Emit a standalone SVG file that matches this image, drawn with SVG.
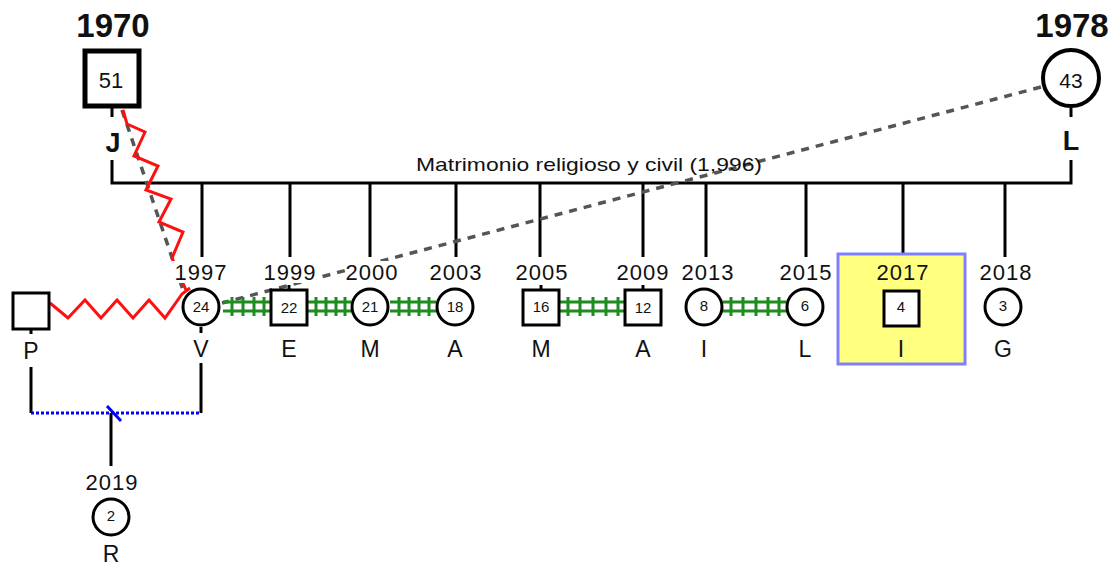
<svg xmlns="http://www.w3.org/2000/svg" width="1114" height="566" viewBox="0 0 1114 566">
<style>
text{font-family:"Liberation Sans",Arial,sans-serif;fill:#111;text-anchor:middle}
.yr{font-size:22px;letter-spacing:1px}
.big{font-size:33px;font-weight:bold}
.nm{font-size:23px}
.ln{stroke:#000;stroke-width:3;fill:none}
.nd{fill:#fff;stroke:#000;stroke-width:3}
.age{font-size:15px}
.grn{stroke:#1e8c1e;stroke-width:3;fill:none}
.gd{stroke:#555;stroke-width:3.5;stroke-dasharray:8 7;fill:none}
.red{stroke:#ff1010;stroke-width:3;fill:none;stroke-linejoin:miter}
.bg{fill:#fff}
</style>
<rect width="1114" height="566" fill="#fff"/>
<g id="connectors">
  <path class="ln" d="M112 108V117M112 160V183H1071V160M1071 108V117"/>
  <path class="ln" d="M202 183V257M290 183V257M370 183V257M456 183V257M540 183V257M643 183V257M706 183V257M806 183V257M903 183V257M1005 183V257"/>
  <path class="ln" d="M31 330V334M31 367V413M201 327V333M201 363V413M111 413V466"/>
  <path d="M31 413H201" stroke="#0000ff" stroke-width="3" stroke-dasharray="3 2" fill="none"/>
  <path d="M107 406L121 421" stroke="#0000ff" stroke-width="3"/>
  <path class="gd" d="M1041 87L222 303"/>
  <path class="gd" d="M122 110L183 290"/>
  <polyline class="red" points="123,110 127,124 145,132 134,156 158,166 146,190 171,199 159,222 183,232 172,258 186,290"/>
  <polyline class="red" points="50,303 68,318 85,300 101,318 117,300 133,318 149,300 165,318 182,294 190,288"/>
  <path class="grn" d="M223 302H270M223 311H270M232 297V316M243 297V316M254 297V316M264 297V316"/>
  <path class="grn" d="M307 302H351M307 311H351M316 297V316M326 297V316M336 297V316M345 297V316"/>
  <path class="grn" d="M390 302H436M390 311H436M399 297V316M409 297V316M419 297V316M429 297V316"/>
  <path class="grn" d="M559 302H624M559 311H624M568 297V316M580 297V316M593 297V316M606 297V316M618 297V316"/>
  <path class="grn" d="M723 302H786M723 311H786M731 297V316M743 297V316M756 297V316M768 297V316M779 297V316"/>
  <path class="ln" d="M289 285V289M541 285V289M643 285V289M903 285V289"/>
</g>
<text x="589" y="171" font-size="19" textLength="346" lengthAdjust="spacingAndGlyphs">Matrimonio religioso y civil (1,996)</text>
<rect id="highlight" x="838" y="254" width="127" height="110" fill="#ffff80" stroke="#8080ff" stroke-width="3"/>
<g id="years">
  <rect class="bg" x="172" y="261" width="57" height="22"/>
  <rect class="bg" x="262" y="261" width="54" height="22"/>
  <rect class="bg" x="346" y="261" width="50" height="22"/>
  <rect class="bg" x="429" y="261" width="52" height="22"/>
  <text class="yr" x="201" y="280">1997</text>
  <text class="yr" x="290" y="280">1999</text>
  <text class="yr" x="372" y="280">2000</text>
  <text class="yr" x="456" y="280">2003</text>
  <text class="yr" x="542" y="280">2005</text>
  <text class="yr" x="643" y="280">2009</text>
  <text class="yr" x="708" y="280">2013</text>
  <text class="yr" x="806" y="280">2015</text>
  <text class="yr" x="903" y="280">2017</text>
  <text class="yr" x="1006" y="280">2018</text>
</g>
<g id="node-J">
  <text class="big" x="113" y="37">1970</text>
  <rect x="85" y="51" width="54" height="55" fill="#fff" stroke="#000" stroke-width="5"/>
  <text x="111" y="88" font-size="22">51</text>
  <text x="113" y="152" font-size="27" font-weight="bold">J</text>
</g>
<g id="node-L">
  <text class="big" x="1072" y="37">1978</text>
  <circle cx="1071" cy="78" r="28" fill="#fff" stroke="#000" stroke-width="4"/>
  <text x="1071" y="88" font-size="21">43</text>
  <text x="1071" y="150" font-size="27" font-weight="bold">L</text>
</g>
<g id="node-P">
  <rect class="nd" x="13" y="293" width="36" height="36"/>
  <text class="nm" x="31" y="359">P</text>
</g>
<g id="node-V">
  <circle class="nd" cx="201" cy="307" r="18"/>
  <text class="age" x="201" y="312" font-size="14">24</text>
  <text class="nm" x="201" y="357">V</text>
</g>
<g id="node-E">
  <rect class="nd" x="271" y="290" width="36" height="35"/>
  <text class="age" x="289" y="313">22</text>
  <text class="nm" x="289" y="357">E</text>
</g>
<g id="node-M1">
  <circle class="nd" cx="370" cy="307" r="18"/>
  <text class="age" x="370" y="312" font-size="14">21</text>
  <text class="nm" x="370" y="357">M</text>
</g>
<g id="node-A1">
  <circle class="nd" cx="455" cy="307" r="18"/>
  <text class="age" x="455" y="312" font-size="14">18</text>
  <text class="nm" x="455" y="357">A</text>
</g>
<g id="node-M2">
  <rect class="nd" x="523" y="290" width="36" height="35"/>
  <text class="age" x="541" y="312" font-size="13">16</text>
  <text class="nm" x="541" y="357">M</text>
</g>
<g id="node-A2">
  <rect class="nd" x="625" y="290" width="36" height="35"/>
  <text class="age" x="643" y="313">12</text>
  <text class="nm" x="643" y="357">A</text>
</g>
<g id="node-I1">
  <circle class="nd" cx="704" cy="307" r="18"/>
  <text class="age" x="704" y="311" font-size="12">8</text>
  <text class="nm" x="704" y="357">I</text>
</g>
<g id="node-L2">
  <circle class="nd" cx="805" cy="307" r="18"/>
  <text class="age" x="805" y="311" font-size="12">6</text>
  <text class="nm" x="805" y="357">L</text>
</g>
<g id="node-I2">
  <rect class="nd" x="884" y="291" width="35" height="35"/>
  <text class="age" x="901" y="312" font-size="10">4</text>
  <text class="nm" x="901" y="357">I</text>
</g>
<g id="node-G">
  <circle class="nd" cx="1003" cy="307" r="18"/>
  <text class="age" x="1003" y="311" font-size="12">3</text>
  <text class="nm" x="1003" y="357">G</text>
</g>
<g id="node-R">
  <text class="yr" x="112" y="490">2019</text>
  <circle class="nd" cx="111" cy="517" r="18"/>
  <text class="age" x="111" y="521" font-size="12">2</text>
  <text class="nm" x="111" y="562" font-size="21">R</text>
</g>
</svg>
